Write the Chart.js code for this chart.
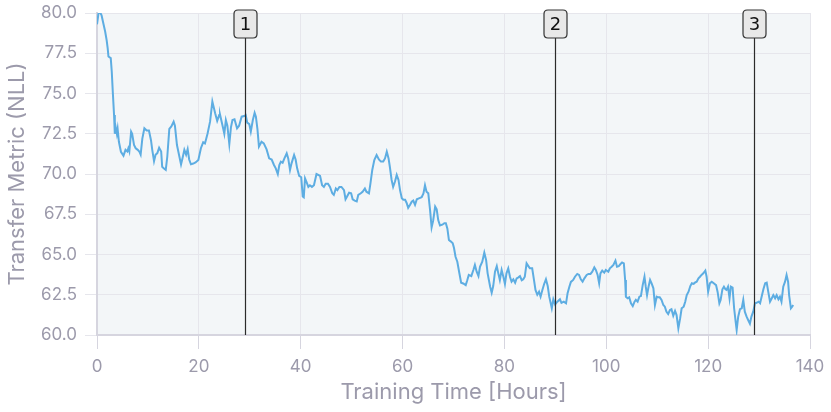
<!DOCTYPE html>
<html>
<head>
<meta charset="utf-8">
<script src="https://cdn.jsdelivr.net/npm/chart.js@4/dist/chart.umd.min.js"></script>
<style>
  html, body { margin: 0; padding: 0; background: #fff; }
  #wrap { width: 831px; height: 412px; }
</style>
</head>
<body>
<div id="wrap"><canvas id="c" width="831" height="412"></canvas></div>
<script>
// training curve with three checkpoint markers
const hours = [
  0.0, 0.3, 0.6, 0.9, 1.25, 1.6, 1.9, 2.1, 2.25, 2.7, 2.9, 3.1, 3.35, 3.5, 3.7, 3.9, 4.05, 4.3, 4.7, 5.2,
  5.6, 5.95, 6.15, 6.35, 6.7, 6.9, 7.27, 7.6, 8.0, 8.3, 8.57, 8.9, 9.3, 9.75, 10.2, 10.6, 10.85, 11.2, 11.5, 11.85,
  12.2, 12.6, 12.8, 13.1, 13.5, 13.8, 14.2, 14.6, 15.05, 15.3, 15.7, 16.1, 16.5, 16.8, 17.15, 17.5, 17.8, 18.1, 18.45, 18.9,
  19.35, 19.9, 20.4, 20.85, 21.2, 21.7, 22.2, 22.65, 23.2, 23.6, 24.0, 24.15, 24.7, 25.0, 25.3, 25.6, 25.98, 26.3, 26.6, 27.0,
  27.5, 27.9, 28.4, 28.9, 29.2, 29.5, 29.9, 30.2, 30.6, 30.95, 31.2, 31.5, 31.8, 32.3, 32.75, 33.3, 33.8, 34.3, 34.75, 35.1,
  35.5, 35.8, 36.1, 36.45, 36.8, 37.25, 37.55, 37.9, 38.2, 38.7, 39.0, 39.3, 39.7, 40.1, 40.4, 40.6, 40.85, 41.15, 41.5, 41.8,
  42.2, 42.6, 43.1, 43.45, 43.8, 44.2, 44.55, 44.9, 45.35, 45.75, 46.2, 46.5, 46.9, 47.2, 47.6, 48.0, 48.5, 48.8, 49.1, 49.5,
  49.9, 50.2, 50.6, 51.0, 51.3, 51.8, 52.15, 52.6, 52.9, 53.4, 53.7, 54.05, 54.45, 54.9, 55.35, 55.75, 56.2, 56.55, 56.9, 57.25,
  57.5, 57.85, 58.15, 58.5, 58.85, 59.2, 59.5, 59.85, 60.15, 60.5, 60.8, 61.1, 61.5, 61.8, 62.1, 62.45, 62.8, 63.2, 63.75, 64.1,
  64.4, 64.7, 65.05, 65.4, 65.7, 66.0, 66.4, 66.7, 67.0, 67.35, 67.8, 68.2, 68.5, 68.8, 69.1, 69.5, 69.85, 70.1, 70.4, 70.75,
  71.1, 71.5, 71.9, 72.4, 72.7, 73.0, 73.5, 73.9, 74.2, 74.55, 74.9, 75.2, 75.65, 76.05, 76.4, 76.7, 77.2, 77.5, 77.8, 78.15,
  78.5, 78.8, 79.1, 79.45, 79.8, 80.1, 80.4, 80.75, 81.1, 81.4, 81.75, 82.1, 82.4, 82.75, 83.05, 83.4, 83.7, 84.0, 84.35, 84.7,
  85.0, 85.45, 85.8, 86.1, 86.45, 86.8, 87.1, 87.45, 87.8, 88.15, 88.5, 88.8, 89.3, 89.6, 89.95, 90.4, 90.9, 91.2, 91.65, 92.1,
  92.4, 92.75, 93.05, 93.5, 93.85, 94.3, 94.65, 95.0, 95.35, 95.7, 96.15, 96.5, 96.9, 97.25, 97.65, 97.95, 98.3, 98.6, 98.85, 99.2,
  99.6, 99.9, 100.4, 100.7, 101.05, 101.4, 101.8, 102.1, 102.45, 102.8, 103.1, 103.45, 103.7, 103.85, 104.2, 104.5, 104.85, 105.2, 105.55, 105.8,
  106.15, 106.5, 106.8, 107.15, 107.5, 107.75, 108.0, 108.3, 108.6, 108.9, 109.25, 109.55, 109.9, 110.2, 110.5, 110.85, 111.2, 111.5, 111.8, 112.15,
  112.5, 112.8, 113.15, 113.5, 113.8, 114.15, 114.5, 114.8, 115.2, 115.5, 115.8, 116.15, 116.5, 116.8, 117.15, 117.4, 117.75, 118.1, 118.4, 118.7,
  119.05, 119.45, 119.7, 120.0, 120.35, 120.7, 121.1, 121.55, 121.85, 122.2, 122.45, 122.8, 123.1, 123.4, 123.6, 123.9, 124.2, 124.45, 124.8, 125.1,
  125.4, 125.6, 125.9, 126.25, 126.6, 126.9, 127.2, 127.55, 127.9, 128.2, 128.5, 128.85, 129.2, 129.5, 129.9, 130.2, 130.5, 130.85, 131.2, 131.5,
  131.8, 132.15, 132.5, 132.8, 133.15, 133.45, 133.8, 134.1, 134.4, 134.75, 135.1, 135.4, 135.7, 135.9, 136.25, 136.5, 136.7
];

const nll = [
  79.3, 80.0, 80.05, 79.85, 79.35, 78.85, 78.3, 77.8, 77.3, 77.2, 76.35, 75.1, 73.66, 72.5, 72.85, 72.5, 72.8, 72.0, 71.38, 71.14,
  71.5, 71.4, 71.6, 71.4, 72.63, 72.5, 71.8, 71.6, 71.5, 71.4, 71.2, 72.2, 72.84, 72.7, 72.7, 72.1, 71.5, 70.8, 71.2, 71.3,
  71.63, 71.4, 70.45, 70.35, 70.25, 71.07, 72.8, 72.95, 73.25, 73.0, 71.8, 71.2, 70.6, 71.0, 71.5, 71.2, 71.55, 70.9, 70.6, 70.65,
  70.72, 70.87, 71.6, 71.97, 71.9, 72.5, 73.25, 74.5, 73.77, 73.3, 73.66, 73.7, 72.94, 72.5, 73.35, 73.0, 71.86, 72.9, 73.35, 73.4,
  72.84, 73.0, 73.56, 73.6, 73.66, 73.19, 73.1, 72.63, 73.35, 73.8, 73.56, 72.8, 71.7, 72.0, 71.9, 71.53, 70.97, 70.9, 70.56, 70.35,
  70.0, 70.56, 70.77, 70.7, 70.97, 71.28, 70.97, 70.25, 70.66, 71.18, 70.9, 70.35, 69.88, 69.8, 68.6, 68.55, 69.73, 69.5, 69.2, 69.3,
  69.2, 69.3, 70.0, 69.95, 69.88, 69.3, 69.2, 69.4, 69.4, 69.2, 68.8, 68.7, 69.1, 69.0, 69.2, 69.2, 69.0, 68.43, 68.6, 68.84,
  68.8, 68.43, 68.35, 68.3, 68.7, 68.8, 68.9, 69.1, 68.9, 68.8, 69.43, 70.25, 70.87, 71.18, 70.9, 70.77, 70.77, 70.97, 71.39, 70.97,
  70.45, 69.63, 69.2, 69.52, 69.94, 69.63, 69.0, 68.5, 68.4, 68.4, 68.2, 67.9, 68.1, 68.28, 68.35, 68.08, 68.43, 68.49, 68.56, 68.8,
  69.3, 68.9, 68.8, 67.76, 66.69, 67.1, 67.97, 67.8, 67.14, 66.8, 66.85, 66.94, 66.94, 66.6, 65.9, 65.8, 65.7, 65.4, 64.86, 64.55,
  63.93, 63.25, 63.2, 63.1, 63.4, 63.73, 63.66, 64.04, 64.35, 63.93, 63.66, 64.24, 64.55, 65.11, 64.66, 63.83, 63.0, 62.63, 63.04, 63.93,
  64.28, 63.83, 63.42, 64.04, 63.6, 63.17, 63.83, 64.14, 63.6, 63.31, 63.46, 63.25, 63.52, 63.58, 63.66, 63.4, 63.46, 63.62, 64.45, 64.28,
  64.14, 64.14, 63.42, 62.8, 62.5, 62.69, 62.38, 62.8, 63.17, 63.46, 63.04, 62.38, 61.66, 62.22, 61.9, 62.07, 62.22, 62.0, 62.07, 61.97,
  62.6, 63.0, 63.3, 63.42, 63.62, 63.79, 63.73, 63.46, 63.31, 63.52, 63.73, 63.79, 63.79, 63.93, 64.2, 64.04, 63.73, 63.21, 63.83, 64.0,
  63.87, 64.04, 63.93, 64.14, 64.24, 64.35, 64.62, 64.24, 64.28, 64.41, 64.5, 64.45, 63.42, 62.38, 62.28, 62.34, 61.97, 61.8, 62.07, 62.18,
  62.07, 62.38, 62.42, 63.1, 63.62, 63.0, 62.48, 63.0, 63.42, 63.21, 62.9, 61.86, 62.38, 62.34, 62.34, 62.18, 61.86, 61.76, 61.45, 61.3,
  61.55, 61.6, 61.2, 61.5, 61.24, 60.42, 61.03, 61.66, 61.76, 62.07, 62.48, 62.69, 63.04, 63.21, 63.17, 63.25, 63.31, 63.52, 63.62, 63.73,
  63.83, 64.0, 63.62, 62.69, 63.21, 63.31, 63.21, 63.1, 62.69, 61.97, 62.18, 62.84, 63.0, 62.84, 62.8, 63.0, 62.28, 63.0, 62.94, 61.66,
  60.83, 60.31, 61.14, 61.6, 61.66, 62.18, 61.45, 61.14, 60.9, 60.7, 61.14, 61.45, 61.97, 62.0, 62.07, 61.97, 62.38, 62.84, 63.21, 63.25,
  62.69, 62.07, 62.28, 62.48, 62.28, 62.48, 62.22, 62.38, 62.07, 63.0, 63.31, 63.73, 63.31, 62.48, 61.66, 61.76, 61.86
];

// checkpoints (hours) and their labels
const markerHours = [29, 90, 129];
const markerLabels = ['1', '2', '3'];

const xTicks = [0, 20, 40, 60, 80, 100, 120, 140];
const yTicks = [60, 62.5, 65, 67.5, 70, 72.5, 75, 77.5, 80];

(function () {
  'use strict';

  const GRID = '#e6e6ec';
  const AXIS = '#d6d5df';
  const TXT = '#9c9aab';
  const FONT = 'Inter, "Noto Sans", sans-serif';

  const plotBg = {
    id: 'plotBg',
    beforeDraw(chart) {
      const a = chart.chartArea;
      const ctx = chart.ctx;
      ctx.save();
      ctx.fillStyle = '#f3f6f8';
      ctx.fillRect(a.left, a.top, a.right - a.left, a.bottom - a.top);
      ctx.restore();
    }
  };

  function roundRect(ctx, x, y, w, h, r) {
    ctx.beginPath();
    ctx.moveTo(x + r, y);
    ctx.lineTo(x + w - r, y);
    ctx.quadraticCurveTo(x + w, y, x + w, y + r);
    ctx.lineTo(x + w, y + h - r);
    ctx.quadraticCurveTo(x + w, y + h, x + w - r, y + h);
    ctx.lineTo(x + r, y + h);
    ctx.quadraticCurveTo(x, y + h, x, y + h - r);
    ctx.lineTo(x, y + r);
    ctx.quadraticCurveTo(x, y, x + r, y);
    ctx.closePath();
  }

  const markers = {
    id: 'markers',
    afterDatasetsDraw(chart) {
      const ctx = chart.ctx;
      const xs = chart.scales.x;
      const a = chart.chartArea;
      const boxW = 23, boxH = 28, boxTop = 10;
      ctx.save();
      markerHours.forEach((h, i) => {
        const px = Math.round(xs.getPixelForValue(h)) + 0.5;
        ctx.strokeStyle = '#2b2b2b';
        ctx.lineWidth = 1.2;
        ctx.beginPath();
        ctx.moveTo(px, boxTop + boxH);
        ctx.lineTo(px, a.bottom);
        ctx.stroke();

        roundRect(ctx, px - boxW / 2, boxTop, boxW, boxH, 4);
        ctx.fillStyle = '#e8e8e8';
        ctx.fill();
        ctx.lineWidth = 1.2;
        ctx.strokeStyle = '#333';
        ctx.stroke();

        ctx.fillStyle = '#111';
        ctx.font = '18px "DejaVu Sans", sans-serif';
        ctx.textAlign = 'center';
        ctx.textBaseline = 'middle';
        ctx.fillText(markerLabels[i], px, boxTop + boxH / 2 + 1);
      });
      ctx.restore();
    }
  };

  const points = hours.map((h, i) => ({ x: h, y: nll[i] }));

  new Chart(document.getElementById('c'), {
    type: 'line',
    data: {
      datasets: [{
        data: points,
        borderColor: '#5dade2',
        borderWidth: 2,
        pointRadius: 0,
        tension: 0,
        fill: false
      }]
    },
    options: {
      responsive: false,
      animation: false,
      layout: { padding: { top: 13, right: 21, left: 4, bottom: 0 } },
      plugins: { legend: { display: false }, tooltip: { enabled: false } },
      scales: {
        x: {
          type: 'linear',
          min: 0,
          max: 140,
          afterBuildTicks: s => { s.ticks = xTicks.map(v => ({ value: v })); },
          afterFit: s => { s.height = 77; s.paddingLeft = 0; s.paddingRight = 0; },
          grid: { color: GRID, tickLength: 14, tickColor: AXIS },
          border: { color: AXIS, width: 2 },
          ticks: { color: TXT, font: { family: FONT, size: 17 }, padding: 8, maxRotation: 0 },
          title: {
            display: true,
            text: 'Training Time [Hours]',
            color: TXT,
            font: { family: FONT, size: 22 },
            padding: { top: 0, bottom: 6 }
          }
        },
        y: {
          min: 60,
          max: 80,
          afterBuildTicks: s => { s.ticks = yTicks.map(v => ({ value: v })); },
          afterFit: s => { s.width = 93; s.paddingTop = 0; s.paddingBottom = 0; },
          grid: { color: GRID, tickLength: 12, tickColor: GRID },
          border: { color: AXIS, width: 2 },
          ticks: {
            color: TXT,
            font: { family: FONT, size: 17 },
            padding: 8,
            callback: v => Number(v).toFixed(1)
          },
          title: {
            display: true,
            text: 'Transfer Metric (NLL)',
            color: TXT,
            font: { family: FONT, size: 22 },
            padding: { top: 0, bottom: 0 }
          }
        }
      }
    },
    plugins: [plotBg, markers]
  });
})();
</script>
</body>
</html>
